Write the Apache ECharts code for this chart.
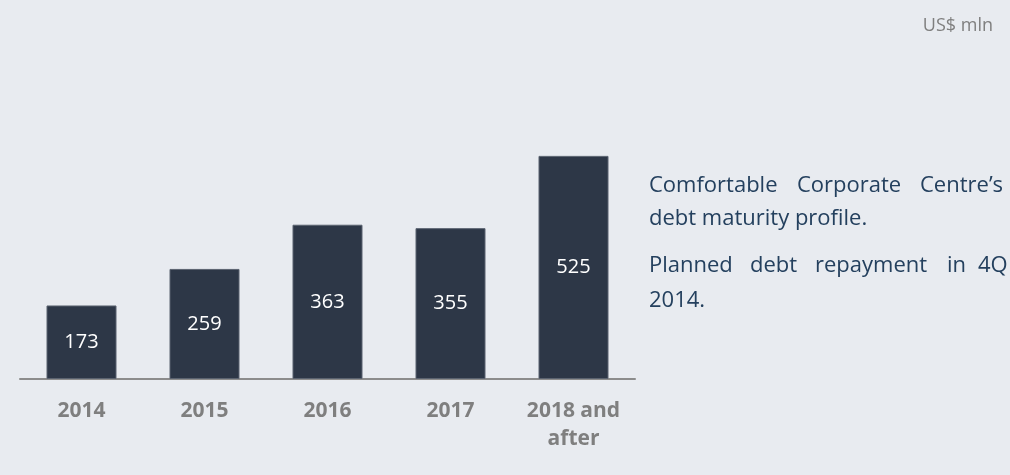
<!DOCTYPE html>
<html><head><meta charset="utf-8">
<script src="https://cdn.jsdelivr.net/npm/echarts@6/dist/echarts.min.js"></script>
<style>html,body{margin:0;padding:0;background:#e8ebf0}#c{width:1010px;height:475px}</style>
</head><body><div id="c"></div>
<script>
const categories = ['2014', '2015', '2016', '2017', '2018 and\nafter'];
const values = [173, 259, 363, 355, 525];
const unitLabel = 'US$ mln';
const noteLine1 = ['Comfortable', 'Corporate', 'Centre\u2019s'];
const noteLine2 = 'debt maturity profile.';
const noteLine3 = ['Planned', 'debt', 'repayment', 'in', '4Q'];
const noteLine4 = '2014.';

const font = '"Open Sans", "Noto Sans", sans-serif';
const noteStyle = {fill: '#24405e', font: '22px ' + font, textVerticalAlign: 'top'};
function textAt(t, x, y) {
  return {type: 'text', left: x, top: y - 12, style: Object.assign({text: t}, noteStyle)};
}
function words(list, xs, y) {
  return list.map((w, i) => textAt(w, xs[i], y));
}
const chart = echarts.init(document.getElementById('c'));
chart.setOption({
  backgroundColor: '#e8ebf0',
  animation: false,
  grid: {left: 20, right: 375, top: 124, bottom: 96},
  xAxis: {
    type: 'category', data: categories,
    axisLine: {lineStyle: {color: '#8c8c8c', width: 2}},
    axisTick: {show: false},
    axisLabel: {color: '#7f7f7f', fontWeight: 'bold', fontSize: 21, fontFamily: font, lineHeight: 28, margin: 18, interval: 0}
  },
  yAxis: {type: 'value', min: 0, max: 600, show: false, splitLine: {show: false}},
  series: [{
    type: 'bar', data: values, barWidth: 70,
    itemStyle: {color: '#2d3747', borderColor: '#5b6370', borderWidth: 1},
    label: {show: true, position: 'inside', color: '#ffffff', fontSize: 20, fontFamily: font}
  }],
  graphic: [
    {type: 'text', right: 17, top: 17, style: {text: unitLabel, fill: '#7f7f7f', font: '18px ' + font}}
  ].concat(
    words(noteLine1, [649, 797, 920], 187),
    [textAt(noteLine2, 649, 220)],
    words(noteLine3, [649, 750, 815, 947, 978], 267),
    [textAt(noteLine4, 649, 302)]
  )
});
</script></body></html>
